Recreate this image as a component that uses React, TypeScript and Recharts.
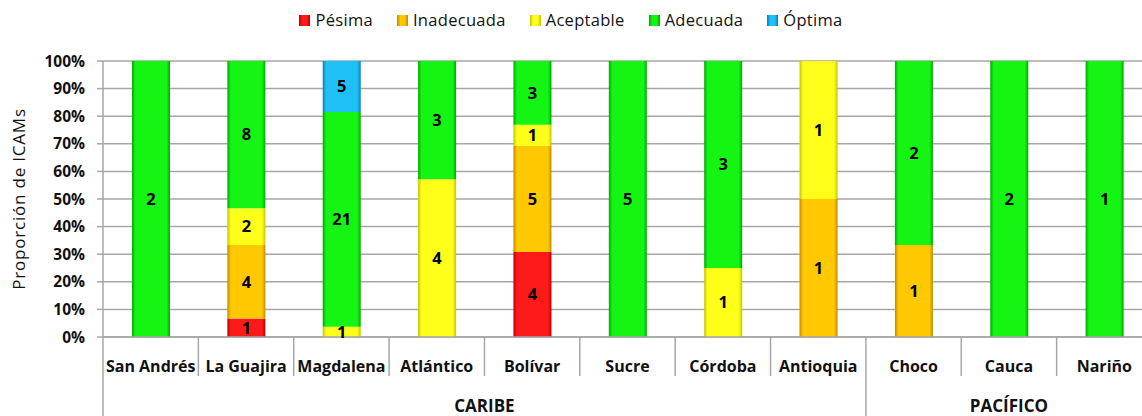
import React from 'react';
import { BarChart, Bar, XAxis, YAxis, CartesianGrid, LabelList } from 'recharts';

// Departments on the horizontal axis, grouped by region
const departments = [
  'San Andrés', 'La Guajira', 'Magdalena', 'Atlántico', 'Bolívar', 'Sucre',
  'Córdoba', 'Antioquia', 'Choco', 'Cauca', 'Nariño',
];
const regions = [
  { name: 'CARIBE', first: 0, count: 8 },
  { name: 'PACÍFICO', first: 8, count: 3 },
];

// Number of ICAM stations in each quality class per department
const pesima = [0, 1, 0, 0, 4, 0, 0, 0, 0, 0, 0];
const inadecuada = [0, 4, 0, 0, 5, 0, 0, 1, 1, 0, 0];
const aceptable = [0, 2, 1, 4, 1, 0, 1, 1, 0, 0, 0];
const adecuada = [2, 8, 21, 3, 3, 5, 3, 0, 2, 2, 1];
const optima = [0, 0, 5, 0, 0, 0, 0, 0, 0, 0, 0];

const yTicks = [0, 0.1, 0.2, 0.3, 0.4, 0.5, 0.6, 0.7, 0.8, 0.9, 1];

const series = [
  { key: 'pesima', name: 'Pésima', counts: pesima, light: '#ff1a1a', dark: '#b80000' },
  { key: 'inadecuada', name: 'Inadecuada', counts: inadecuada, light: '#ffc800', dark: '#c08a00' },
  { key: 'aceptable', name: 'Aceptable', counts: aceptable, light: '#ffff1a', dark: '#c4c400' },
  { key: 'adecuada', name: 'Adecuada', counts: adecuada, light: '#14f514', dark: '#00a800' },
  { key: 'optima', name: 'Óptima', counts: optima, light: '#1ec0f5', dark: '#0082b8' },
];

// Share of each class within a department, plus the raw count for the labels
const table = departments.map((department, i) => {
  const total = series.reduce((s, c) => s + c.counts[i], 0);
  const row: Record<string, number | string> = { department };
  series.forEach((c) => {
    row[c.key] = total ? c.counts[i] / total : 0;
    row[c.key + 'N'] = c.counts[i];
  });
  return row;
});

const FONT = '"Open Sans", "DejaVu Sans", sans-serif';
const LINE = '#a6a6a6';

const CategoryTick = (props: any) => {
  const { x, y, payload, width } = props;
  const half = payload.offset ? payload.offset : width / departments.length / 2;
  const idx = payload.index;
  const left = x - half;
  const region = regions.find((r) => r.first === idx);
  const isLast = idx === departments.length - 1;
  return (
    <g>
      <line x1={left} x2={left} y1={y} y2={y + (region ? 79 : 39)} stroke={LINE} strokeWidth={1.5} />
      {isLast && (
        <line x1={left + 2 * half} x2={left + 2 * half} y1={y} y2={y + 79} stroke={LINE} strokeWidth={1.5} />
      )}
      <text
        x={x}
        y={y + 35}
        textAnchor="middle"
        fontFamily={FONT}
        fontWeight={700}
        fontSize={16}
        fill="#111"
      >
        {payload.value}
      </text>
      {region && (
        <text
          x={left + region.count * half}
          y={y + 75}
          textAnchor="middle"
          fontFamily={FONT}
          fontWeight={700}
          fontSize={17}
          fill="#111"
        >
          {region.name}
        </text>
      )}
    </g>
  );
};

const LegendRow = () => (
  <div
    style={{
      position: 'absolute',
      top: 9,
      left: 0,
      width: 1142,
      display: 'flex',
      justifyContent: 'center',
      paddingRight: 0,
      boxSizing: 'border-box',
      fontFamily: FONT,
      fontSize: 16.5,
      lineHeight: '22px',
      color: '#111',
      gap: 24,
    }}
  >
    {series.map((s) => (
      <div key={s.key} style={{ display: 'flex', alignItems: 'center', gap: 5 }}>
        <span
          style={{
            display: 'inline-block',
            width: 11,
            height: 11,
            background: `linear-gradient(to right, ${s.dark}, ${s.light} 30%, ${s.light} 70%, ${s.dark})`,
          }}
        />
        <span style={{ letterSpacing: 0.3 }}>{s.name}</span>
      </div>
    ))}
  </div>
);

export default function App() {
  return (
    <div
      style={{
        position: 'relative',
        width: 1142,
        height: 416,
        overflow: 'hidden',
        background: '#fff',
      }}
    >
      <style>{'body { margin: 0; }'}</style>
      <LegendRow />
      <BarChart
        width={1152}
        height={416}
        data={table}
        margin={{ top: 61, right: 0, left: 0, bottom: 0 }}
        barSize={38}
      >
        <defs>
          {series.map((s) => (
            <linearGradient key={s.key} id={`fill-${s.key}`} x1="0" y1="0" x2="1" y2="0">
              <stop offset="0%" stopColor={s.dark} />
              <stop offset="9%" stopColor={s.light} />
              <stop offset="91%" stopColor={s.light} />
              <stop offset="100%" stopColor={s.dark} />
            </linearGradient>
          ))}
        </defs>
        <CartesianGrid vertical={false} stroke={LINE} strokeWidth={1.5} />
        <XAxis
          dataKey="department"
          height={79}
          interval={0}
          tickSize={0}
          tickMargin={0}
          tickLine={false}
          axisLine={{ stroke: LINE, strokeWidth: 1.5 }}
          tick={<CategoryTick />}
        />
        <YAxis
          width={103}
          domain={[0, 1]}
          ticks={yTicks}
          allowDataOverflow
          tickFormatter={(v: number) => `${Math.round(v * 100)}%`}
          tick={{ fill: '#111', fontFamily: FONT, fontWeight: 700, fontSize: 15.5 }}
          tickSize={6}
          tickMargin={12}
          tickLine={{ stroke: LINE, strokeWidth: 1.5 }}
          axisLine={{ stroke: LINE, strokeWidth: 1.5 }}
          label={{
            value: 'Proporción de ICAMs',
            angle: -90,
            position: 'center',
            dx: -33,
            style: { fill: '#111', fontFamily: FONT, fontSize: 17, letterSpacing: 0.8 },
          }}
        />
        {series.map((s) => (
          <Bar
            key={s.key}
            dataKey={s.key}
            name={s.name}
            stackId="icam"
            fill={`url(#fill-${s.key})`}
            isAnimationActive={false}
          >
            <LabelList
              dataKey={s.key + 'N'}
              position="center"
              formatter={(v: any) => (v ? v : '')}
              style={{ fill: '#000', fontFamily: FONT, fontWeight: 700, fontSize: 16.5 }}
            />
          </Bar>
        ))}
      </BarChart>
    </div>
  );
}
